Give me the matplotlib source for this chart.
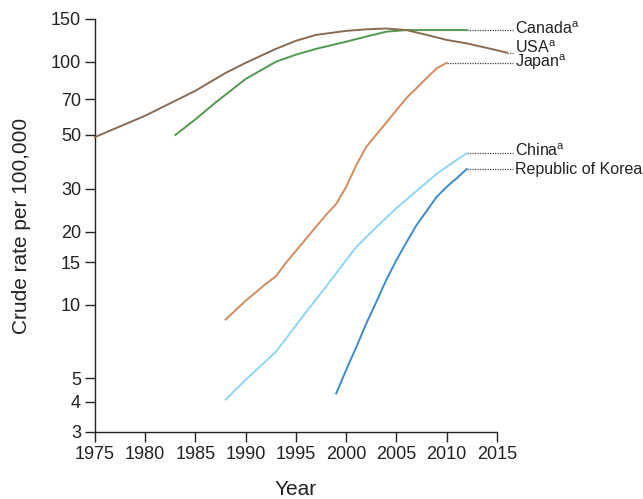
import matplotlib.pyplot as plt
from matplotlib.ticker import FixedLocator, NullLocator

plt.rcParams['font.family'] = ['Liberation Sans', 'DejaVu Sans']
plt.rcParams['mathtext.fontset'] = 'custom'
plt.rcParams['mathtext.rm'] = 'Liberation Sans'
plt.rcParams['mathtext.it'] = 'Liberation Sans'

# Crude rate per 100,000 by year
usa_years = [1975, 1980, 1985, 1988, 1990, 1993, 1995, 1997, 2000, 2002, 2004, 2006, 2008, 2010, 2012, 2014, 2016]
usa_rate = [49, 60, 76, 90, 99, 113, 122, 129, 134, 136, 137, 135, 129, 123, 119, 114, 109]

canada_years = [1983, 1985, 1987, 1990, 1993, 1995, 1997, 2000, 2002, 2004, 2006, 2008, 2010, 2012]
canada_rate = [50, 58, 68, 85, 100, 107, 113, 121, 127, 133, 135, 135, 135, 135]

japan_years = [1988, 1990, 1992, 1993, 1994, 1996, 1998, 1999, 2000, 2001, 2002, 2004, 2006, 2008, 2009, 2010]
japan_rate = [8.7, 10.4, 12.2, 13.1, 14.9, 18.7, 23.5, 26, 30.6, 37.6, 44.7, 56.3, 71, 85.7, 94, 99]

china_years = [1988, 1990, 1993, 1996, 1998, 2000, 2001, 2003, 2005, 2007, 2009, 2011, 2012]
china_rate = [4.08, 4.92, 6.41, 9.34, 11.9, 15.3, 17.3, 20.9, 25, 29.4, 34.6, 39.5, 42]

korea_years = [1999, 2000, 2001, 2002, 2003, 2004, 2005, 2006, 2007, 2009, 2010, 2011, 2012]
korea_rate = [4.32, 5.41, 6.7, 8.39, 10.3, 12.7, 15.3, 18.1, 21.3, 27.8, 30.6, 33.2, 36.2]

labels = ['Canada$^{\\mathrm{a}}$', 'USA$^{\\mathrm{a}}$', 'Japan$^{\\mathrm{a}}$',
          'China$^{\\mathrm{a}}$', 'Republic of Korea']
label_y = [137, 114, 99.5, 43, 36.2]

fig = plt.figure(figsize=(6.43, 4.99), dpi=100)
ax = fig.add_axes([0.1477, 0.1343, 0.6252, 0.8277])

series = [
    (canada_years, canada_rate, '#4f9a4c'),
    (usa_years, usa_rate, '#8a6b50'),
    (japan_years, japan_rate, '#d48b5c'),
    (china_years, china_rate, '#8dd6f5'),
    (korea_years, korea_rate, '#3d8bcf'),
]
for (xs, ys, c), lab, ly in zip(series, labels, label_y):
    ax.plot(xs, ys, color=c, lw=1.4, clip_on=False, zorder=3)
    # dotted leader from the end of the line towards its label
    ax.plot([xs[-1], 2016.6], [ys[-1], ys[-1]], color='#444444', lw=0.9,
            ls=(0, (1, 1)), clip_on=False, zorder=2)
    ax.text(2016.8, ly, lab, fontsize=11.5, va='center', ha='left', color='#222222')

ax.set_yscale('log')
ax.set_xlim(1975, 2015)
ax.set_ylim(3, 150)
yticks = [3, 4, 5, 10, 15, 20, 30, 50, 70, 100, 150]
ax.yaxis.set_major_locator(FixedLocator(yticks))
ax.yaxis.set_minor_locator(NullLocator())
ax.set_yticklabels([str(t) for t in yticks])
ax.set_xticks(range(1975, 2016, 5))

for s in ['top', 'right']:
    ax.spines[s].set_visible(False)
for s in ['left', 'bottom']:
    ax.spines[s].set_linewidth(1.0)
    ax.spines[s].set_color('#222222')
ax.tick_params(direction='out', length=7, width=1.0, labelsize=13, colors='#222222', pad=3)

ax.set_xlabel('Year', fontsize=15, color='#222222', labelpad=12)
ax.set_ylabel('Crude rate per 100,000', fontsize=15, color='#222222', labelpad=14)

fig.savefig('out.png', dpi=100)
